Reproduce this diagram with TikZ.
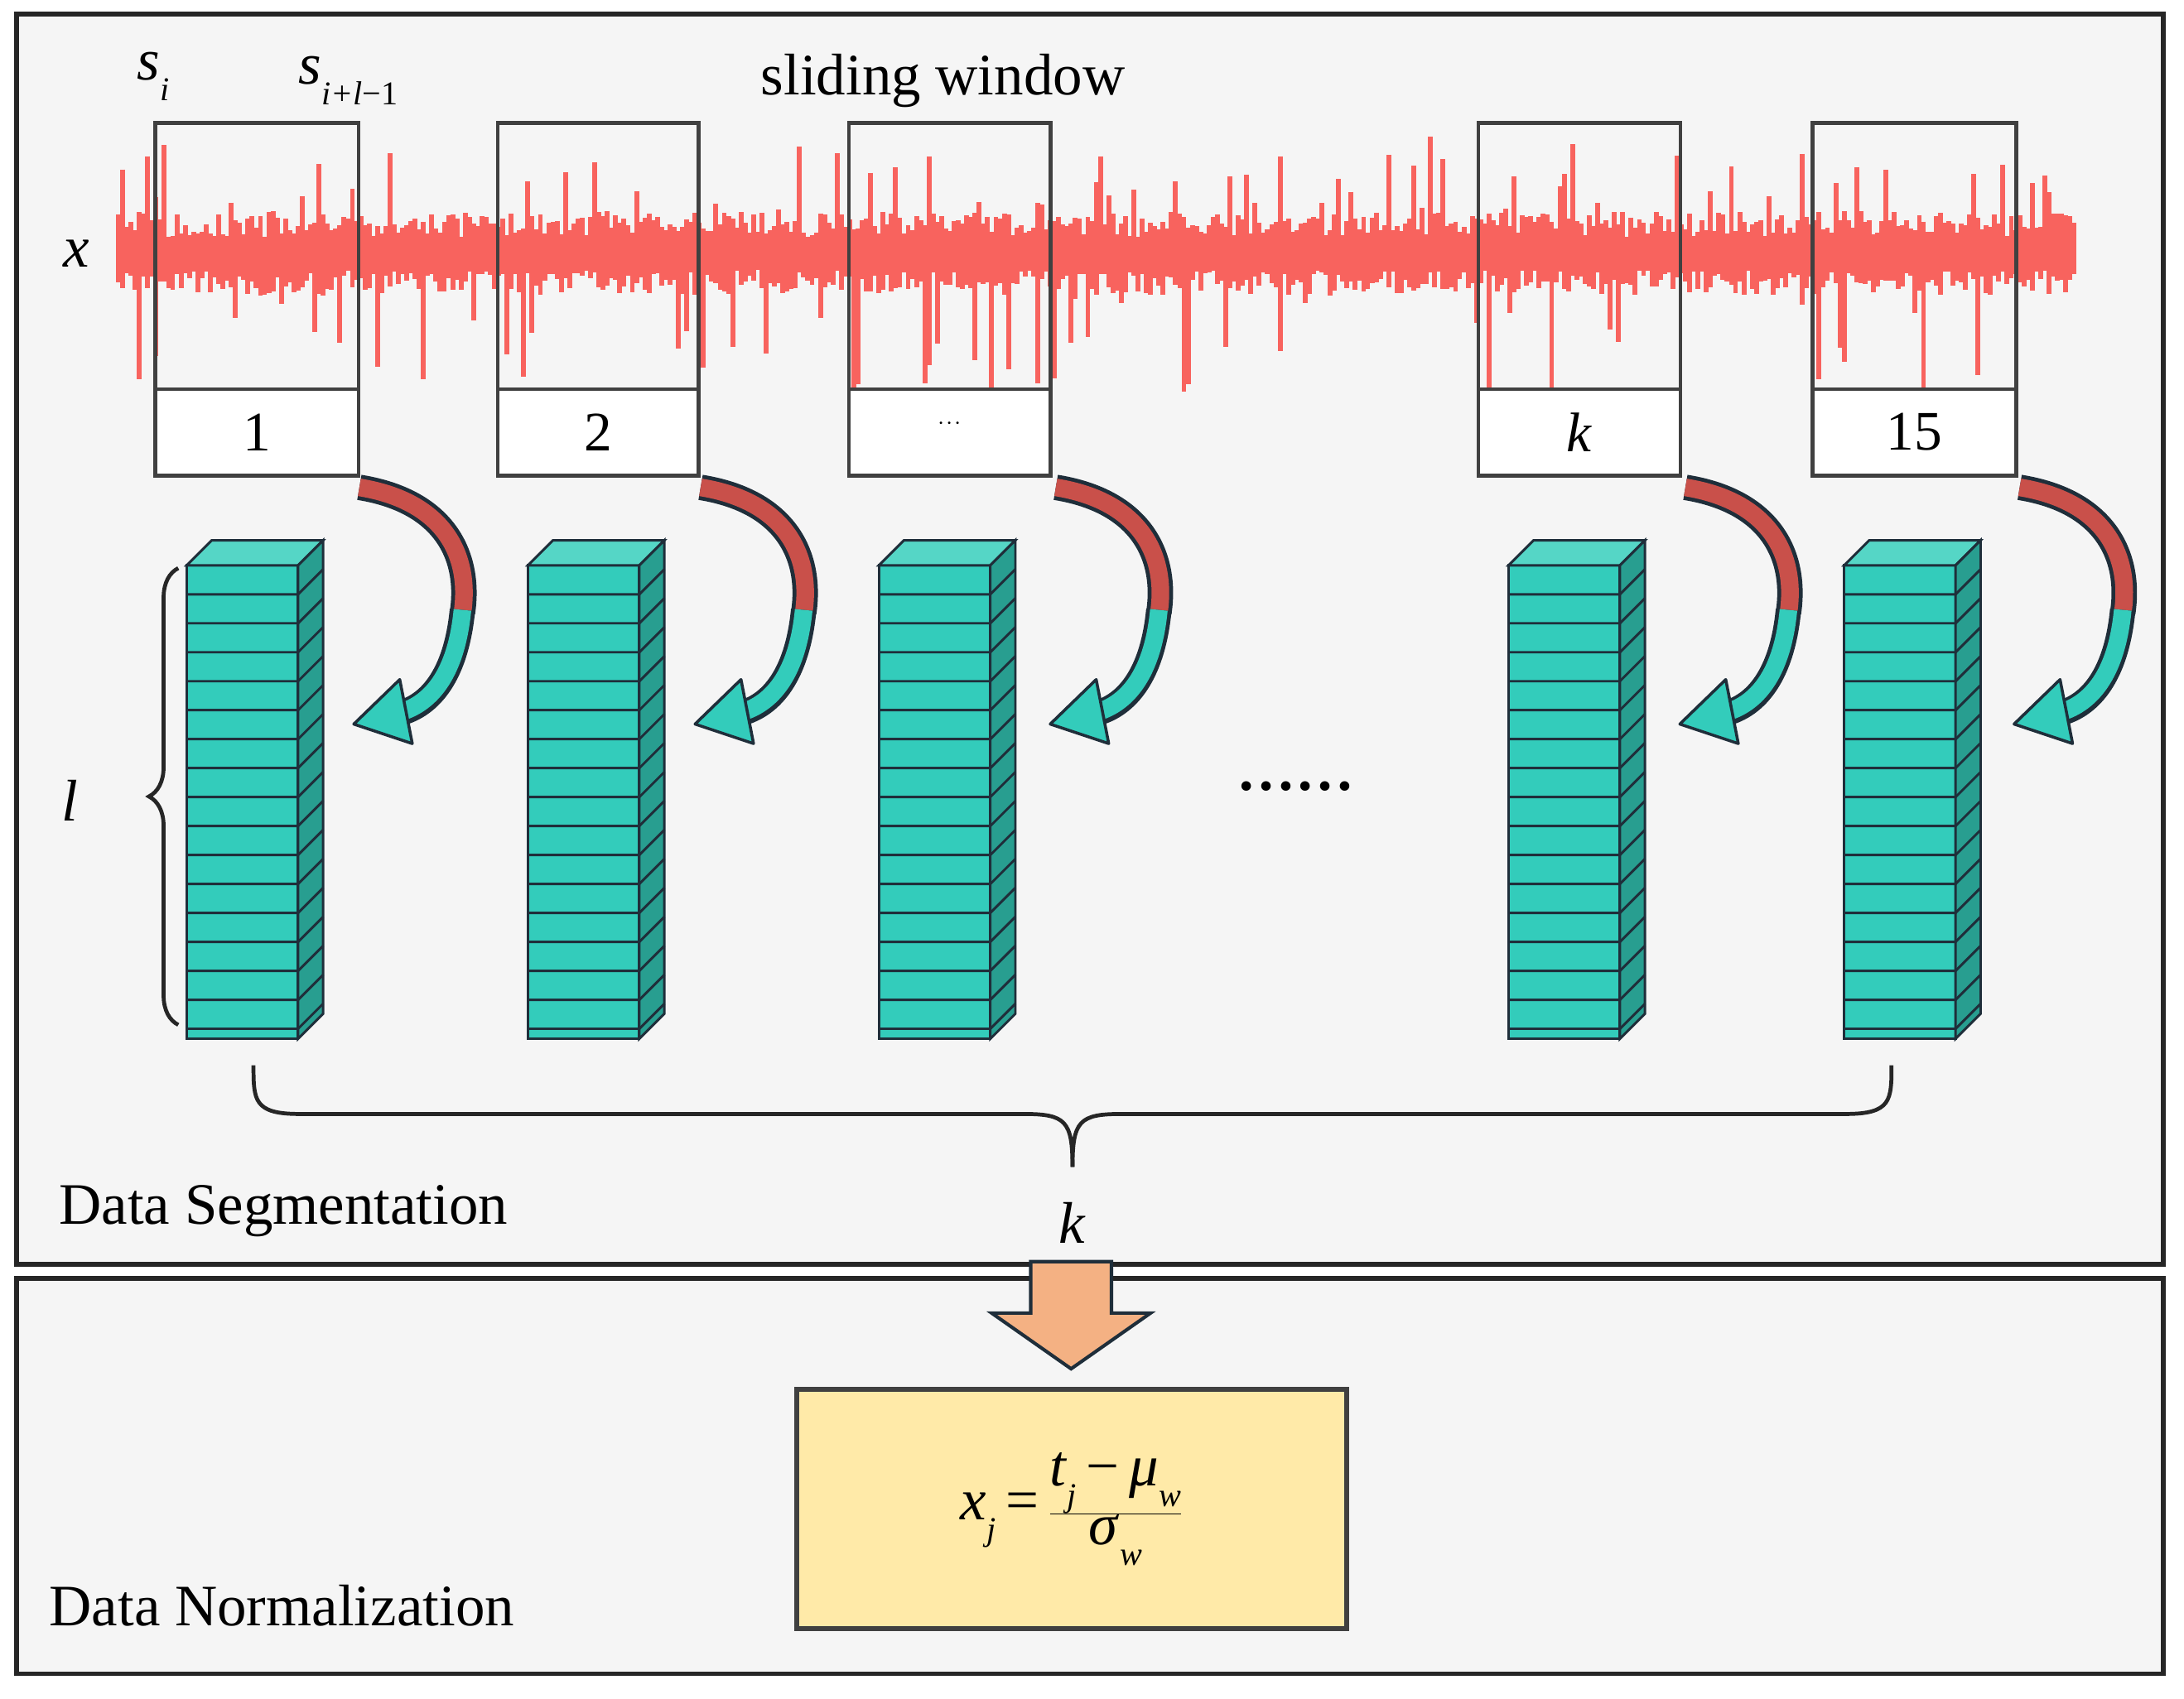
\documentclass[tikz,border=0pt]{standalone}
\usepackage{fontspec}
\setmainfont{Liberation Serif}
\usetikzlibrary{arrows.meta,decorations.pathreplacing}
\definecolor{sig}{HTML}{F8635E}
\definecolor{tealf}{HTML}{33CCBB}
\definecolor{tealt}{HTML}{55D6C6}
\definecolor{teals}{HTML}{289E90}
\definecolor{dk}{HTML}{1F2E3A}
\definecolor{redc}{HTML}{C9504A}
\definecolor{orng}{HTML}{F4B183}
\definecolor{yel}{HTML}{FFEAA8}
\tikzset{
  win/.style={draw=black!75,line width=4pt},
  lbl/.style={font=\fontsize{57}{60}\selectfont},
  big/.style={font=\fontsize{60}{64}\selectfont},
}
\newcommand{\mysub}[1]{\raisebox{-0.35em}{\fontsize{34}{36}\selectfont\itshape #1}}
\newcommand{\stk}[1]{%
  \begin{scope}[shift={(#1,0)}]
   \fill[tealf,draw=dk,line width=2.5pt] (0,406) rectangle (80,746);
   \fill[tealt,draw=dk,line width=2.5pt] (0,406) -- (18,388) -- (98,388) -- (80,406) -- cycle;
   \fill[teals,draw=dk,line width=2.5pt] (80,406) -- (98,388) -- (98,728) -- (80,746) -- cycle;
   \foreach \i in {1,...,16}{
     \draw[dk,line width=2.5pt] (0,406+\i*20.8) -- (80,406+\i*20.8) -- (98,388+\i*20.8);}
  \end{scope}}
\newcommand{\carr}[1]{%
  \begin{scope}[shift={(#1,0)}]
   \draw[dk,line width=26pt] (258,350) .. controls (320,360) and (338,400) .. (332,440);
   \draw[redc,line width=18pt] (258,350) .. controls (320,360) and (338,400) .. (332,440);
   \draw[dk,line width=26pt] (332,438) .. controls (328,480) and (312,505) .. (288,512);
   \draw[tealf,line width=18pt] (332,438) .. controls (328,480) and (312,505) .. (286,512);
   \fill[tealf,draw=dk,line width=3pt,line join=round] (254,520) -- (287,488) -- (296,534) -- cycle;
  \end{scope}}
\begin{document}
\begin{tikzpicture}[x=0.05cm,y=-0.05cm]
\useasboundingbox (0,0) rectangle (1568,1220);
\fill[white] (0,0) rectangle (1568,1220);
\draw[fill=black!4,draw=black!85,line width=5pt] (12,10) rectangle (1553,908);
\draw[fill=blue!2!black!4,draw=black!85,line width=5pt] (12,918) rectangle (1553,1202);
% signal
\pgfmathsetseed{7}
\foreach \x in {85,88,...,1490}{
  \pgfmathsetmacro\a{12+18*rnd+(rnd>0.85)*60*rnd}
  \pgfmathsetmacro\b{12+18*rnd+(rnd>0.87)*80*rnd}
  \draw[sig,line width=5pt] (\x,182-\a) -- (\x,182+\b);}
\draw[sig,line width=10pt] (85,182) -- (1490,182);
% windows
\foreach \xa/\xb/\t [count=\n] in {110/256/1,356/500/2,608/753/\raisebox{0.3em}{$\cdot\!\cdot\!\cdot$},1060/1205/\textit{k},1300/1446/15}{
  \node[win,minimum width={(\xb-\xa)*0.05cm},minimum height={191*0.05cm},anchor=north west] (w\n) at (\xa,87) {};
  \node[win,fill=white,minimum width={(\xb-\xa)*0.05cm},minimum height={62*0.05cm},anchor=north west,lbl] (n\n) at (\xa,278) {\t};}
\node[big] (sw) at (677,58) {sliding window};
\node[big] (si) at (110,55) {\textit{s}\mysub{i}};
\node[big] (sl) at (250,58) {\textit{s}\mysub{i+l}\raisebox{-0.35em}{\fontsize{34}{36}\selectfont −1}};
\node[big] (xx) at (55,182) {\textit{x}};
% stacks and arrows
\foreach \s in {134,379,631,1083,1324}{\stk{\s}}
\foreach \s in {0,245,500,952,1192}{\carr{\s}}
\node[big] (dots) at (930,565) {\textbf{……}};
\draw[line width=4pt,black!85,decorate,decoration={brace,amplitude=30pt}] (128,736) -- (128,408);
\node[big] (ll) at (50,575) {\textit{l}};
\draw[line width=4pt,black!85] (182,765) .. controls (182,790) and (182,800) .. (215,800) -- (735,800) .. controls (765,800) and (770,805) .. (770,838);
\draw[line width=4pt,black!85] (1358,765) .. controls (1358,790) and (1358,800) .. (1325,800) -- (805,800) .. controls (775,800) and (770,805) .. (770,838);
\node[big] (kk) at (770,878) {\textit{k}};
\node[big,anchor=west] (ds) at (40,870) {Data Segmentation};
\node[big,anchor=west] (dn) at (33,1153) {Data Normalization};
% orange arrow
\draw[fill=orng,draw=dk,line width=3.5pt] (740,906) -- (798,906) -- (798,943) -- (826,943) -- (769,983) -- (712,943) -- (740,943) -- cycle;
\node[draw=black!75,fill=yel,line width=5pt,minimum width={395*0.05cm},minimum height={172*0.05cm},anchor=north west,
  font=\fontsize{60}{64}\selectfont] (fb) at (570,996) {\textit{x}\mysub{j}\,=\,$\frac{\mbox{\textit{t}\mysub{j}\,−\,\textit{μ}\mysub{w}}}{\mbox{\textit{σ}\mysub{w}}}$};
\end{tikzpicture}
\end{document}
